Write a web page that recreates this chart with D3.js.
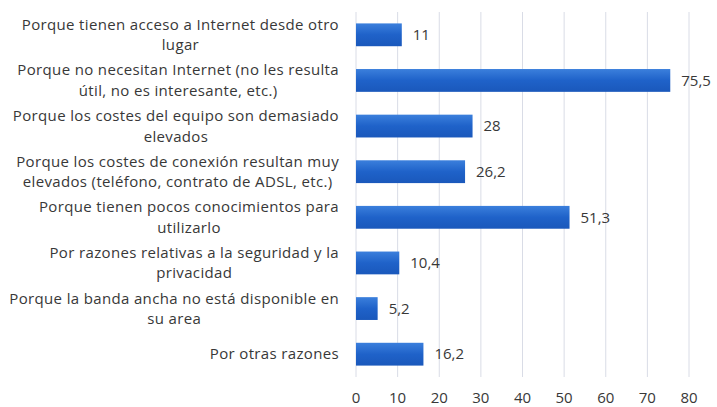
<!DOCTYPE html>
<html>
<head>
<meta charset="utf-8">
<script src="https://cdn.jsdelivr.net/npm/d3@7"></script>
<style>
  body { margin: 0; background: #fff; }
  text { font-family: "Open Sans", Lato, sans-serif; fill: #383838; }
</style>
</head>
<body>
<svg width="717" height="407"></svg>
<script>
const categories = [
  "Porque tienen acceso a Internet desde otro\nlugar",
  "Porque no necesitan Internet (no les resulta\nútil, no es interesante, etc.)",
  "Porque los costes del equipo son demasiado\nelevados",
  "Porque los costes de conexión resultan muy\nelevados (teléfono, contrato de ADSL, etc.)",
  "Porque tienen pocos conocimientos para\nutilizarlo",
  "Por razones relativas a la seguridad y la\nprivacidad",
  "Porque la banda ancha no está disponible en\nsu area",
  "Por otras razones"
];
const values = [11, 75.5, 28, 26.2, 51.3, 10.4, 5.2, 16.2];
const valueLabels = ["11", "75,5", "28", "26,2", "51,3", "10,4", "5,2", "16,2"];
const ticks = [0, 10, 20, 30, 40, 50, 60, 70, 80];

const svg = d3.select("svg");
const plotLeft = 356, plotRight = 689, plotTop = 12, plotBottom = 377;

const x = d3.scaleLinear().domain([0, 80]).range([plotLeft, plotRight]);
const y = d3.scaleBand().domain(d3.range(categories.length)).range([plotTop, plotBottom]).paddingInner(0.5).paddingOuter(0.25);

// gradient for bars
const grad = svg.append("defs").append("linearGradient")
  .attr("id", "bar").attr("x1", 0).attr("y1", 0).attr("x2", 0).attr("y2", 1);
grad.append("stop").attr("offset", "0%").attr("stop-color", "#3b7fdc");
grad.append("stop").attr("offset", "50%").attr("stop-color", "#1f62c9");
grad.append("stop").attr("offset", "100%").attr("stop-color", "#1a58bb");

// gridlines
svg.append("g")
  .selectAll("line")
  .data(ticks)
  .enter()
  .append("line")
  .attr("x1", d => x(d)).attr("x2", d => x(d))
  .attr("y1", plotTop).attr("y2", plotBottom)
  .attr("stroke", "#d9dce6").attr("stroke-width", 1);

// bars
svg.append("g")
  .selectAll("rect")
  .data(values)
  .enter()
  .append("rect")
  .attr("x", x(0))
  .attr("y", (d, i) => y(i))
  .attr("width", d => x(d) - x(0))
  .attr("height", y.bandwidth())
  .attr("fill", "url(#bar)");

// value labels
svg.append("g")
  .selectAll("text")
  .data(values)
  .enter()
  .append("text")
  .attr("x", d => x(d) + 11)
  .attr("y", (d, i) => y(i) + y.bandwidth() / 2)
  .attr("dy", "0.35em")
  .attr("font-size", 15)
  .text((d, i) => valueLabels[i]);

// x axis tick labels
svg.append("g")
  .selectAll("text")
  .data(ticks)
  .enter()
  .append("text")
  .attr("x", d => x(d))
  .attr("y", 398)
  .attr("dy", "0.35em")
  .attr("text-anchor", "middle")
  .attr("font-size", 15)
  .text(d => d);

// category labels, centered block, right aligned to the plot
const labelRight = 339, lineH = 20.5;
categories.forEach((c, i) => {
  const lines = c.split("\n");
  const g = svg.append("g");
  const cy = y(i) + y.bandwidth() / 2;
  const t = g.selectAll("text")
    .data(lines)
    .enter()
    .append("text")
    .attr("y", (d, j) => cy + (j - (lines.length - 1) / 2) * lineH)
    .attr("dy", "0.35em")
    .attr("font-size", 15)
    .attr("letter-spacing", 0.35)
    .attr("text-anchor", "middle")
    .text(d => d);
  let maxW = 0;
  t.each(function() { maxW = Math.max(maxW, this.getComputedTextLength()); });
  t.attr("x", labelRight - maxW / 2);
});
</script>
</body>
</html>
